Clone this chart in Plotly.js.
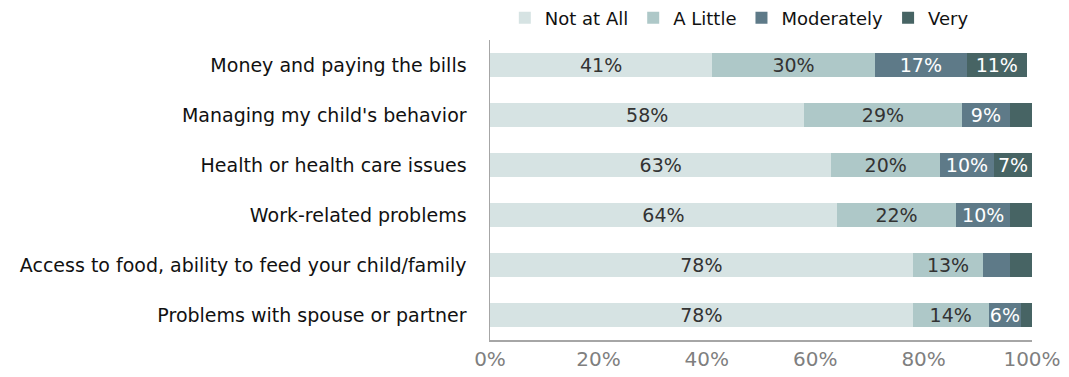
<!DOCTYPE html>
<html>
<head>
<meta charset="utf-8">
<script src="https://cdn.plot.ly/plotly-3.0.1.min.js"></script>
<style>html,body{margin:0;padding:0;background:#fff;}#chart{width:1069px;height:377px;}</style>
</head>
<body>
<div id="chart"></div>
<script>
var categories = [
  "Money and paying the bills",
  "Managing my child's behavior",
  "Health or health care issues",
  "Work-related problems",
  "Access to food, ability to feed your child/family",
  "Problems with spouse or partner"
];
var seriesNames = ["Not at All", "A Little", "Moderately", "Very"];
var notAtAll   = [41, 58, 63, 64, 78, 78];
var aLittle    = [30, 29, 20, 22, 13, 14];
var moderately = [17, 9, 10, 10, 5, 6];
var very       = [11, 4, 7, 4, 4, 2];
var tickVals = [0, 20, 40, 60, 80, 100];
var tickText = ["0%", "20%", "40%", "60%", "80%", "100%"];

var seriesValues = [notAtAll, aLittle, moderately, very];
var colors = ["#d6e3e3", "#aec8c8", "#5e7a88", "#476464"];
var textColors = ["#333333", "#333333", "#ffffff", "#ffffff"];
var FONT = "'DejaVu Sans', sans-serif";

var traces = seriesValues.map(function (vals, i) {
  return {
    type: "bar",
    orientation: "h",
    name: seriesNames[i],
    y: categories,
    x: vals,
    text: vals.map(function (v) { return v >= 6 ? v + "%" : ""; }),
    textposition: "inside",
    insidetextanchor: "middle",
    constraintext: "none",
    textfont: { family: FONT, size: 19, color: textColors[i] },
    marker: { color: colors[i], line: { width: 0 } },
    hoverinfo: "none"
  };
});

var layout = {
  width: 1069,
  height: 377,
  barmode: "stack",
  bargap: 0.52,
  margin: { l: 490, r: 37, t: 40, b: 37, pad: 0, autoexpand: false },
  paper_bgcolor: "#ffffff",
  plot_bgcolor: "#ffffff",
  font: { family: FONT, color: "#111111", size: 18 },
  showlegend: true,
  legend: {
    orientation: "h",
    x: 0.46, xanchor: "center",
    yref: "container",
    y: 0.952, yanchor: "middle",
    font: { family: FONT, size: 18, color: "#111111" },
    traceorder: "normal",
    itemwidth: 30,
    tracegroupgap: 0
  },
  xaxis: {
    range: [0, 100],
    tickvals: tickVals,
    ticktext: tickText,
    showgrid: false,
    zeroline: false,
    showline: true,
    linecolor: "#a6a6a6",
    linewidth: 1.5,
    ticks: "",
    ticklen: 0,
    tickfont: { family: FONT, size: 20, color: "#7f7f7f" },
    fixedrange: true
  },
  yaxis: {
    type: "category",
    categoryorder: "array",
    categoryarray: categories,
    autorange: "reversed",
    showgrid: false,
    zeroline: false,
    showline: true,
    linecolor: "#a6a6a6",
    linewidth: 1.5,
    ticks: "",
    ticksuffix: "   ",
    tickfont: { family: FONT, size: 19, color: "#111111" },
    fixedrange: true
  }
};

Plotly.newPlot("chart", traces, layout, { displayModeBar: false, staticPlot: true });
</script>
</body>
</html>
